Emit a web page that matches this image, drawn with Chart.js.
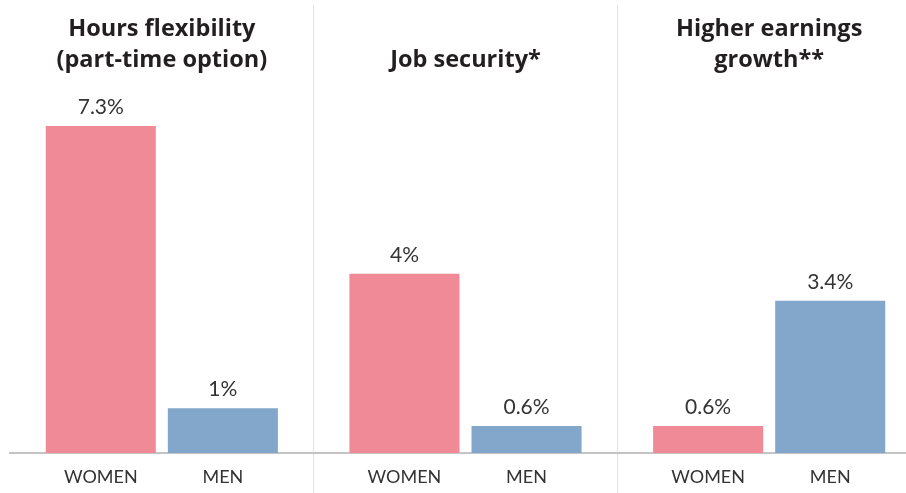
<!DOCTYPE html>
<html>
<head>
<meta charset="utf-8">
<script src="https://cdn.jsdelivr.net/npm/chart.js@4/dist/chart.umd.min.js"></script>
<style>
body{margin:0;background:#fff;overflow:hidden;}
#box{width:925px;height:493px;position:relative;}
</style>
</head>
<body>
<div id="box"><canvas id="graphe"></canvas></div>
<script>
// panels and values
const categories=[["Hours flexibility","(part-time option)"],["Job security*"],["Higher earnings","growth**"]];
const groups=["WOMEN","MEN"];
const women=[7.3,4,0.6];
const men=[1,0.6,3.4];
const pink="#f08a96";
const blue="#82a7ca";

// titles on top, values above the bars, WOMEN/MEN below them
const labelsPlugin={
    id:"labels",
    afterDatasetsDraw(chart){
        const c=chart.ctx;
        const x=chart.scales.x;
        c.save();
        c.fillStyle="#231f20";
        c.textAlign="center";
        c.textBaseline="alphabetic";
        c.font="bold 23.5px 'Open Sans'";
        categories.forEach((lines,i)=>{
            const px=x.getPixelForValue(i);
            for(let k=0;k<lines.length;k++){
                c.fillText(lines[k],px,67-(lines.length-1-k)*31);
            }
        });
        chart.data.datasets.forEach((ds,d)=>{
            chart.getDatasetMeta(d).data.forEach((bar,i)=>{
                c.fillStyle="#333";
                c.font="21px Lato";
                c.textBaseline="alphabetic";
                c.fillText(ds.data[i]+"%",bar.x,bar.y-12);
                c.font="18px Lato";
                c.textBaseline="middle";
                c.fillText(ds.label,bar.x,477);
            });
        });
        c.restore();
    }
};

var chart=new Chart(document.getElementById("graphe"),{
    type:"bar",
    data:{
        labels:categories.map(l=>l.join(" ")),
        datasets:[{
            label:groups[0],
            data:women,
            backgroundColor:pink
        },{
            label:groups[1],
            data:men,
            backgroundColor:blue
        }]
    },
    options:{
        responsive:true,
        maintainAspectRatio:false,
        animation:false,
        categoryPercentage:0.804,
        barPercentage:0.9016,
        layout:{padding:{left:10,right:4,top:5,bottom:0}},
        plugins:{legend:{display:false},tooltip:{enabled:false}},
        scales:{
            x:{
                afterFit(s){s.height=40;},
                ticks:{display:false},
                grid:{
                    offset:true,
                    color:(ctx)=>ctx.index===0?"rgba(0,0,0,0)":"#e2e2e2",
                    lineWidth:1,
                    tickLength:40
                },
                border:{display:true,color:"#c4c4c4",width:2}
            },
            y:{
                display:false,
                min:0,
                max:10
            }
        }
    },
    plugins:[labelsPlugin]
});
</script>
</body>
</html>
